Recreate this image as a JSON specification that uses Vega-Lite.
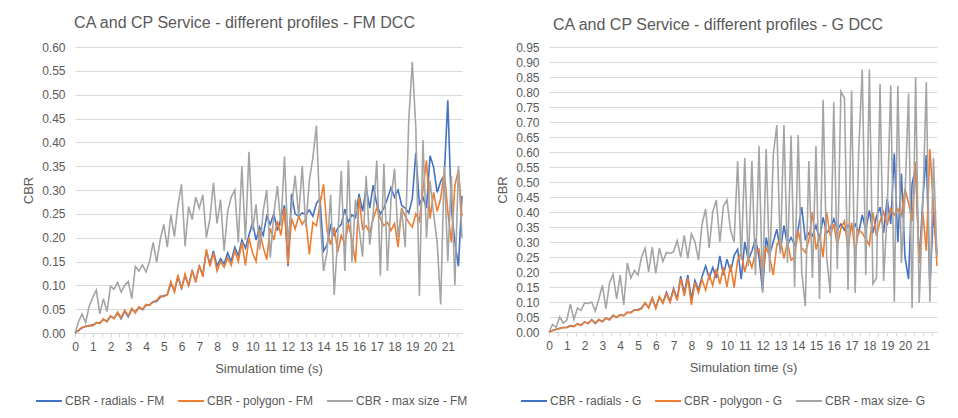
{
  "$schema": "https://vega.github.io/schema/vega-lite/v6.json",
  "background": "white",
  "padding": {"left": 22, "top": 15, "right": 10, "bottom": 5},
  "config": {
    "font": "Liberation Sans",
    "view": {"stroke": null},
    "title": {"fontSize": 16, "fontWeight": "normal", "color": "#595959", "anchor": "middle", "offset": 10},
    "axis": {"labelColor": "#595959", "titleColor": "#595959", "labelFontSize": 12, "titleFontSize": 13, "titleFontWeight": "normal", "gridColor": "#D9D9D9", "domainColor": "#D9D9D9", "tickColor": "#D9D9D9"},
    "legend": {"labelColor": "#595959", "labelFontSize": 12, "symbolType": "stroke", "symbolSize": 676, "symbolStrokeWidth": 2, "labelOffset": 2, "columnPadding": 9, "orient": "none", "direction": "horizontal", "title": null}
  },
  "spacing": 28,
  "resolve": {"scale": {"color": "independent"}, "legend": {"color": "independent"}},
  "hconcat": [
    {
      "title": {"text": "CA and CP Service - different profiles - FM DCC", "dx": -24},
      "width": 387,
      "height": 286,
      "data": {"values": [
        {"t":0,"r":0,"p":0,"m":0},
        {"t":0.2,"r":0.005,"p":0.006,"m":0.024},
        {"t":0.4,"r":0.011,"p":0.012,"m":0.040},
        {"t":0.6,"r":0.014,"p":0.013,"m":0.022},
        {"t":0.8,"r":0.015,"p":0.016,"m":0.056},
        {"t":1.0,"r":0.017,"p":0.015,"m":0.075},
        {"t":1.2,"r":0.021,"p":0.022,"m":0.090},
        {"t":1.4,"r":0.022,"p":0.020,"m":0.040},
        {"t":1.6,"r":0.028,"p":0.030,"m":0.072},
        {"t":1.8,"r":0.025,"p":0.023,"m":0.045},
        {"t":2.0,"r":0.035,"p":0.036,"m":0.098},
        {"t":2.2,"r":0.031,"p":0.030,"m":0.092},
        {"t":2.4,"r":0.042,"p":0.044,"m":0.106},
        {"t":2.6,"r":0.030,"p":0.032,"m":0.086},
        {"t":2.8,"r":0.046,"p":0.048,"m":0.100},
        {"t":3.0,"r":0.034,"p":0.036,"m":0.108},
        {"t":3.2,"r":0.050,"p":0.052,"m":0.072},
        {"t":3.4,"r":0.044,"p":0.042,"m":0.140},
        {"t":3.6,"r":0.054,"p":0.055,"m":0.130},
        {"t":3.8,"r":0.049,"p":0.050,"m":0.143},
        {"t":4.0,"r":0.058,"p":0.060,"m":0.128},
        {"t":4.2,"r":0.060,"p":0.058,"m":0.150},
        {"t":4.4,"r":0.065,"p":0.066,"m":0.190},
        {"t":4.6,"r":0.066,"p":0.068,"m":0.148},
        {"t":4.8,"r":0.075,"p":0.078,"m":0.196},
        {"t":5.0,"r":0.078,"p":0.076,"m":0.228},
        {"t":5.2,"r":0.080,"p":0.082,"m":0.180},
        {"t":5.4,"r":0.104,"p":0.108,"m":0.248},
        {"t":5.6,"r":0.088,"p":0.086,"m":0.202},
        {"t":5.8,"r":0.118,"p":0.122,"m":0.268},
        {"t":6.0,"r":0.094,"p":0.092,"m":0.312},
        {"t":6.2,"r":0.120,"p":0.124,"m":0.182},
        {"t":6.4,"r":0.100,"p":0.098,"m":0.265},
        {"t":6.6,"r":0.130,"p":0.132,"m":0.238},
        {"t":6.8,"r":0.110,"p":0.106,"m":0.285},
        {"t":7.0,"r":0.140,"p":0.142,"m":0.262},
        {"t":7.2,"r":0.122,"p":0.118,"m":0.290},
        {"t":7.4,"r":0.172,"p":0.176,"m":0.200},
        {"t":7.6,"r":0.145,"p":0.140,"m":0.240},
        {"t":7.8,"r":0.172,"p":0.168,"m":0.315},
        {"t":8.0,"r":0.140,"p":0.130,"m":0.230},
        {"t":8.2,"r":0.156,"p":0.150,"m":0.280},
        {"t":8.4,"r":0.145,"p":0.138,"m":0.172},
        {"t":8.6,"r":0.168,"p":0.158,"m":0.255},
        {"t":8.8,"r":0.150,"p":0.142,"m":0.285},
        {"t":9.0,"r":0.180,"p":0.172,"m":0.300},
        {"t":9.2,"r":0.162,"p":0.150,"m":0.190},
        {"t":9.4,"r":0.195,"p":0.190,"m":0.350},
        {"t":9.6,"r":0.178,"p":0.142,"m":0.195},
        {"t":9.8,"r":0.205,"p":0.200,"m":0.380},
        {"t":10.0,"r":0.232,"p":0.168,"m":0.215},
        {"t":10.2,"r":0.195,"p":0.150,"m":0.270},
        {"t":10.4,"r":0.222,"p":0.215,"m":0.175},
        {"t":10.6,"r":0.205,"p":0.180,"m":0.255},
        {"t":10.8,"r":0.245,"p":0.154,"m":0.300},
        {"t":11.0,"r":0.228,"p":0.220,"m":0.158},
        {"t":11.2,"r":0.250,"p":0.195,"m":0.250},
        {"t":11.4,"r":0.215,"p":0.235,"m":0.308},
        {"t":11.6,"r":0.240,"p":0.205,"m":0.225},
        {"t":11.8,"r":0.268,"p":0.262,"m":0.370},
        {"t":12.0,"r":0.140,"p":0.145,"m":0.190},
        {"t":12.2,"r":0.292,"p":0.240,"m":0.262},
        {"t":12.4,"r":0.250,"p":0.218,"m":0.330},
        {"t":12.6,"r":0.245,"p":0.245,"m":0.245},
        {"t":12.8,"r":0.252,"p":0.228,"m":0.350},
        {"t":13.0,"r":0.248,"p":0.240,"m":0.222},
        {"t":13.2,"r":0.258,"p":0.165,"m":0.320},
        {"t":13.4,"r":0.245,"p":0.232,"m":0.368},
        {"t":13.6,"r":0.272,"p":0.225,"m":0.435},
        {"t":13.8,"r":0.282,"p":0.270,"m":0.245},
        {"t":14.0,"r":0.172,"p":0.312,"m":0.130},
        {"t":14.2,"r":0.185,"p":0.215,"m":0.170},
        {"t":14.4,"r":0.225,"p":0.185,"m":0.290},
        {"t":14.6,"r":0.205,"p":0.222,"m":0.080},
        {"t":14.8,"r":0.220,"p":0.170,"m":0.200},
        {"t":15.0,"r":0.228,"p":0.205,"m":0.340},
        {"t":15.2,"r":0.260,"p":0.185,"m":0.130},
        {"t":15.4,"r":0.232,"p":0.230,"m":0.362},
        {"t":15.6,"r":0.248,"p":0.195,"m":0.148},
        {"t":15.8,"r":0.242,"p":0.148,"m":0.280},
        {"t":16.0,"r":0.292,"p":0.285,"m":0.220},
        {"t":16.2,"r":0.255,"p":0.218,"m":0.160},
        {"t":16.4,"r":0.305,"p":0.225,"m":0.330},
        {"t":16.6,"r":0.262,"p":0.210,"m":0.185},
        {"t":16.8,"r":0.310,"p":0.240,"m":0.250},
        {"t":17.0,"r":0.270,"p":0.262,"m":0.362},
        {"t":17.2,"r":0.250,"p":0.240,"m":0.120},
        {"t":17.4,"r":0.262,"p":0.225,"m":0.355},
        {"t":17.6,"r":0.282,"p":0.232,"m":0.130},
        {"t":17.8,"r":0.305,"p":0.215,"m":0.280},
        {"t":18.0,"r":0.285,"p":0.230,"m":0.345},
        {"t":18.2,"r":0.300,"p":0.180,"m":0.200},
        {"t":18.4,"r":0.268,"p":0.262,"m":0.260},
        {"t":18.6,"r":0.262,"p":0.245,"m":0.180},
        {"t":18.8,"r":0.252,"p":0.232,"m":0.446},
        {"t":19.0,"r":0.282,"p":0.222,"m":0.569},
        {"t":19.2,"r":0.378,"p":0.250,"m":0.430},
        {"t":19.4,"r":0.270,"p":0.235,"m":0.078},
        {"t":19.6,"r":0.285,"p":0.300,"m":0.405},
        {"t":19.8,"r":0.262,"p":0.362,"m":0.200},
        {"t":20.0,"r":0.372,"p":0.240,"m":0.320},
        {"t":20.2,"r":0.348,"p":0.295,"m":0.250},
        {"t":20.4,"r":0.295,"p":0.255,"m":0.190},
        {"t":20.6,"r":0.318,"p":0.282,"m":0.060},
        {"t":20.8,"r":0.330,"p":0.340,"m":0.350},
        {"t":21.0,"r":0.488,"p":0.255,"m":0.150},
        {"t":21.2,"r":0.262,"p":0.190,"m":0.330},
        {"t":21.4,"r":0.190,"p":0.310,"m":0.100},
        {"t":21.6,"r":0.140,"p":0.342,"m":0.350},
        {"t":21.8,"r":0.288,"p":0.245,"m":0.200}
      ]},
      "encoding": {
        "x": {"field": "t", "type": "quantitative", "scale": {"domain": [0, 21.8], "nice": false},
          "axis": {"title": "Simulation time (s)", "grid": false, "values": [0,0.5,1,1.5,2,2.5,3,3.5,4,4.5,5,5.5,6,6.5,7,7.5,8,8.5,9,9.5,10,10.5,11,11.5,12,12.5,13,13.5,14,14.5,15,15.5,16,16.5,17,17.5,18,18.5,19,19.5,20,20.5,21,21.5],
            "labelExpr": "datum.value % 1 === 0 ? format(datum.value, 'd') : ''", "labelOverlap": false, "labelFlush": false, "tickSize": 4, "labelPadding": 4, "titlePadding": 10}}
      },
      "layer": [
        {"mark": {"type": "line", "strokeWidth": 1.6},
         "encoding": {
           "y": {"field": "r", "type": "quantitative", "title": "CBR", "scale": {"domain": [0, 0.6], "nice": false},
             "axis": {"values": [0,0.05,0.1,0.15,0.2,0.25,0.3,0.35,0.4,0.45,0.5,0.55,0.6], "format": ".2f", "labelOverlap": false, "grid": true, "domain": false, "ticks": false, "labelPadding": 10, "titlePadding": 6}},
           "color": {"datum": "CBR - radials - FM", "type": "nominal",
             "scale": {"domain": ["CBR - radials - FM", "CBR - polygon - FM", "CBR - max size - FM"], "range": ["#4472C4", "#ED7D31", "#A5A5A5"]},
             "legend": {"legendX": -40, "legendY": 340}}
         }},
        {"mark": {"type": "line", "strokeWidth": 1.6},
         "encoding": {
           "y": {"field": "p", "type": "quantitative", "title": "CBR", "scale": {"domain": [0, 0.6], "nice": false},
             "axis": {"values": [0,0.05,0.1,0.15,0.2,0.25,0.3,0.35,0.4,0.45,0.5,0.55,0.6], "format": ".2f", "labelOverlap": false, "grid": true, "domain": false, "ticks": false, "labelPadding": 10, "titlePadding": 6}},
           "color": {"datum": "CBR - polygon - FM", "type": "nominal"}
         }},
        {"mark": {"type": "line", "strokeWidth": 1.6},
         "encoding": {
           "y": {"field": "m", "type": "quantitative", "title": "CBR", "scale": {"domain": [0, 0.6], "nice": false},
             "axis": {"values": [0,0.05,0.1,0.15,0.2,0.25,0.3,0.35,0.4,0.45,0.5,0.55,0.6], "format": ".2f", "labelOverlap": false, "grid": true, "domain": false, "ticks": false, "labelPadding": 10, "titlePadding": 6}},
           "color": {"datum": "CBR - max size - FM", "type": "nominal"}
         }}
      ]
    },
    {
      "title": {"text": "CA and CP Service - different profiles - G DCC", "dx": -25, "dy": 2},
      "width": 388,
      "height": 285,
      "data": {"values": [
        {"t":0,"r":0,"p":0,"m":0},
        {"t":0.2,"r":0.005,"p":0.005,"m":0.025},
        {"t":0.4,"r":0.009,"p":0.008,"m":0.015},
        {"t":0.6,"r":0.012,"p":0.012,"m":0.050},
        {"t":0.8,"r":0.015,"p":0.015,"m":0.030},
        {"t":1.0,"r":0.016,"p":0.014,"m":0.040},
        {"t":1.2,"r":0.021,"p":0.020,"m":0.093},
        {"t":1.4,"r":0.019,"p":0.018,"m":0.042},
        {"t":1.6,"r":0.027,"p":0.028,"m":0.080},
        {"t":1.8,"r":0.023,"p":0.022,"m":0.072},
        {"t":2.0,"r":0.033,"p":0.034,"m":0.097},
        {"t":2.2,"r":0.029,"p":0.028,"m":0.095},
        {"t":2.4,"r":0.041,"p":0.040,"m":0.100},
        {"t":2.6,"r":0.028,"p":0.030,"m":0.070},
        {"t":2.8,"r":0.040,"p":0.042,"m":0.110},
        {"t":3.0,"r":0.035,"p":0.034,"m":0.156},
        {"t":3.2,"r":0.047,"p":0.046,"m":0.078},
        {"t":3.4,"r":0.041,"p":0.040,"m":0.163},
        {"t":3.6,"r":0.055,"p":0.056,"m":0.193},
        {"t":3.8,"r":0.049,"p":0.048,"m":0.110},
        {"t":4.0,"r":0.057,"p":0.058,"m":0.190},
        {"t":4.2,"r":0.055,"p":0.054,"m":0.090},
        {"t":4.4,"r":0.065,"p":0.066,"m":0.230},
        {"t":4.6,"r":0.066,"p":0.064,"m":0.180},
        {"t":4.8,"r":0.073,"p":0.074,"m":0.205},
        {"t":5.0,"r":0.074,"p":0.072,"m":0.190},
        {"t":5.2,"r":0.080,"p":0.078,"m":0.250},
        {"t":5.4,"r":0.096,"p":0.098,"m":0.280},
        {"t":5.6,"r":0.082,"p":0.080,"m":0.200},
        {"t":5.8,"r":0.112,"p":0.114,"m":0.283},
        {"t":6.0,"r":0.082,"p":0.078,"m":0.195},
        {"t":6.2,"r":0.116,"p":0.118,"m":0.280},
        {"t":6.4,"r":0.098,"p":0.096,"m":0.235},
        {"t":6.6,"r":0.132,"p":0.128,"m":0.265},
        {"t":6.8,"r":0.102,"p":0.098,"m":0.262},
        {"t":7.0,"r":0.145,"p":0.140,"m":0.268},
        {"t":7.2,"r":0.110,"p":0.105,"m":0.305},
        {"t":7.4,"r":0.186,"p":0.178,"m":0.250},
        {"t":7.6,"r":0.130,"p":0.120,"m":0.322},
        {"t":7.8,"r":0.190,"p":0.180,"m":0.245},
        {"t":8.0,"r":0.110,"p":0.090,"m":0.327},
        {"t":8.2,"r":0.172,"p":0.165,"m":0.300},
        {"t":8.4,"r":0.140,"p":0.130,"m":0.240},
        {"t":8.6,"r":0.185,"p":0.175,"m":0.360},
        {"t":8.8,"r":0.220,"p":0.140,"m":0.410},
        {"t":9.0,"r":0.180,"p":0.190,"m":0.280},
        {"t":9.2,"r":0.215,"p":0.155,"m":0.400},
        {"t":9.4,"r":0.180,"p":0.210,"m":0.440},
        {"t":9.6,"r":0.254,"p":0.160,"m":0.300},
        {"t":9.8,"r":0.190,"p":0.215,"m":0.420},
        {"t":10.0,"r":0.243,"p":0.150,"m":0.440},
        {"t":10.2,"r":0.200,"p":0.225,"m":0.340},
        {"t":10.4,"r":0.255,"p":0.148,"m":0.300},
        {"t":10.6,"r":0.276,"p":0.240,"m":0.570},
        {"t":10.8,"r":0.176,"p":0.265,"m":0.240},
        {"t":11.0,"r":0.300,"p":0.200,"m":0.580},
        {"t":11.2,"r":0.240,"p":0.250,"m":0.220},
        {"t":11.4,"r":0.270,"p":0.215,"m":0.570},
        {"t":11.6,"r":0.310,"p":0.265,"m":0.190},
        {"t":11.8,"r":0.250,"p":0.276,"m":0.620},
        {"t":12.0,"r":0.137,"p":0.180,"m":0.130},
        {"t":12.2,"r":0.315,"p":0.285,"m":0.610},
        {"t":12.4,"r":0.260,"p":0.250,"m":0.200},
        {"t":12.6,"r":0.300,"p":0.190,"m":0.590},
        {"t":12.8,"r":0.343,"p":0.290,"m":0.690},
        {"t":13.0,"r":0.270,"p":0.312,"m":0.260},
        {"t":13.2,"r":0.355,"p":0.245,"m":0.690},
        {"t":13.4,"r":0.290,"p":0.300,"m":0.230},
        {"t":13.6,"r":0.315,"p":0.240,"m":0.655},
        {"t":13.8,"r":0.290,"p":0.250,"m":0.150},
        {"t":14.0,"r":0.343,"p":0.338,"m":0.657},
        {"t":14.2,"r":0.416,"p":0.280,"m":0.200},
        {"t":14.4,"r":0.310,"p":0.265,"m":0.086},
        {"t":14.6,"r":0.330,"p":0.305,"m":0.570},
        {"t":14.8,"r":0.320,"p":0.400,"m":0.180},
        {"t":15.0,"r":0.355,"p":0.275,"m":0.620},
        {"t":15.2,"r":0.310,"p":0.320,"m":0.110},
        {"t":15.4,"r":0.382,"p":0.250,"m":0.774},
        {"t":15.6,"r":0.330,"p":0.400,"m":0.250},
        {"t":15.8,"r":0.345,"p":0.320,"m":0.130},
        {"t":16.0,"r":0.377,"p":0.360,"m":0.766},
        {"t":16.2,"r":0.340,"p":0.290,"m":0.210},
        {"t":16.4,"r":0.360,"p":0.345,"m":0.802},
        {"t":16.6,"r":0.340,"p":0.370,"m":0.780},
        {"t":16.8,"r":0.355,"p":0.276,"m":0.140},
        {"t":17.0,"r":0.345,"p":0.365,"m":0.805},
        {"t":17.2,"r":0.360,"p":0.265,"m":0.130},
        {"t":17.4,"r":0.330,"p":0.340,"m":0.600},
        {"t":17.6,"r":0.390,"p":0.330,"m":0.875},
        {"t":17.8,"r":0.340,"p":0.310,"m":0.190},
        {"t":18.0,"r":0.405,"p":0.290,"m":0.875},
        {"t":18.2,"r":0.330,"p":0.400,"m":0.160},
        {"t":18.4,"r":0.385,"p":0.320,"m":0.180},
        {"t":18.6,"r":0.416,"p":0.370,"m":0.827},
        {"t":18.8,"r":0.330,"p":0.400,"m":0.170},
        {"t":19.0,"r":0.444,"p":0.355,"m":0.400},
        {"t":19.2,"r":0.360,"p":0.410,"m":0.822},
        {"t":19.4,"r":0.595,"p":0.390,"m":0.100},
        {"t":19.6,"r":0.300,"p":0.410,"m":0.820},
        {"t":19.8,"r":0.528,"p":0.390,"m":0.230},
        {"t":20.0,"r":0.250,"p":0.477,"m":0.450},
        {"t":20.2,"r":0.176,"p":0.430,"m":0.795},
        {"t":20.4,"r":0.494,"p":0.370,"m":0.080},
        {"t":20.6,"r":0.550,"p":0.567,"m":0.849},
        {"t":20.8,"r":0.230,"p":0.230,"m":0.097},
        {"t":21.0,"r":0.440,"p":0.400,"m":0.420},
        {"t":21.2,"r":0.590,"p":0.270,"m":0.833},
        {"t":21.4,"r":0.148,"p":0.610,"m":0.100},
        {"t":21.6,"r":0.400,"p":0.420,"m":0.580},
        {"t":21.8,"r":0.260,"p":0.220,"m":0.250}
      ]},
      "encoding": {
        "x": {"field": "t", "type": "quantitative", "scale": {"domain": [0, 21.8], "nice": false},
          "axis": {"title": "Simulation time (s)", "grid": false, "values": [0,0.5,1,1.5,2,2.5,3,3.5,4,4.5,5,5.5,6,6.5,7,7.5,8,8.5,9,9.5,10,10.5,11,11.5,12,12.5,13,13.5,14,14.5,15,15.5,16,16.5,17,17.5,18,18.5,19,19.5,20,20.5,21,21.5],
            "labelExpr": "datum.value % 1 === 0 ? format(datum.value, 'd') : ''", "labelOverlap": false, "labelFlush": false, "tickSize": 4, "labelPadding": 4, "titlePadding": 10}}
      },
      "layer": [
        {"mark": {"type": "line", "strokeWidth": 1.6},
         "encoding": {
           "y": {"field": "r", "type": "quantitative", "title": "CBR", "scale": {"domain": [0, 0.95], "nice": false},
             "axis": {"values": [0,0.05,0.1,0.15,0.2,0.25,0.3,0.35,0.4,0.45,0.5,0.55,0.6,0.65,0.7,0.75,0.8,0.85,0.9,0.95], "format": ".2f", "labelOverlap": false, "grid": true, "domain": false, "ticks": false, "labelPadding": 10, "titlePadding": 6}},
           "color": {"datum": "CBR - radials - G", "type": "nominal",
             "scale": {"domain": ["CBR - radials - G", "CBR - polygon - G", "CBR - max size- G"], "range": ["#4472C4", "#ED7D31", "#A5A5A5"]},
             "legend": {"legendX": -29, "legendY": 340}}
         }},
        {"mark": {"type": "line", "strokeWidth": 1.6},
         "encoding": {
           "y": {"field": "p", "type": "quantitative", "title": "CBR", "scale": {"domain": [0, 0.95], "nice": false},
             "axis": {"values": [0,0.05,0.1,0.15,0.2,0.25,0.3,0.35,0.4,0.45,0.5,0.55,0.6,0.65,0.7,0.75,0.8,0.85,0.9,0.95], "format": ".2f", "labelOverlap": false, "grid": true, "domain": false, "ticks": false, "labelPadding": 10, "titlePadding": 6}},
           "color": {"datum": "CBR - polygon - G", "type": "nominal"}
         }},
        {"mark": {"type": "line", "strokeWidth": 1.6},
         "encoding": {
           "y": {"field": "m", "type": "quantitative", "title": "CBR", "scale": {"domain": [0, 0.95], "nice": false},
             "axis": {"values": [0,0.05,0.1,0.15,0.2,0.25,0.3,0.35,0.4,0.45,0.5,0.55,0.6,0.65,0.7,0.75,0.8,0.85,0.9,0.95], "format": ".2f", "labelOverlap": false, "grid": true, "domain": false, "ticks": false, "labelPadding": 10, "titlePadding": 6}},
           "color": {"datum": "CBR - max size- G", "type": "nominal"}
         }}
      ]
    }
  ]
}
